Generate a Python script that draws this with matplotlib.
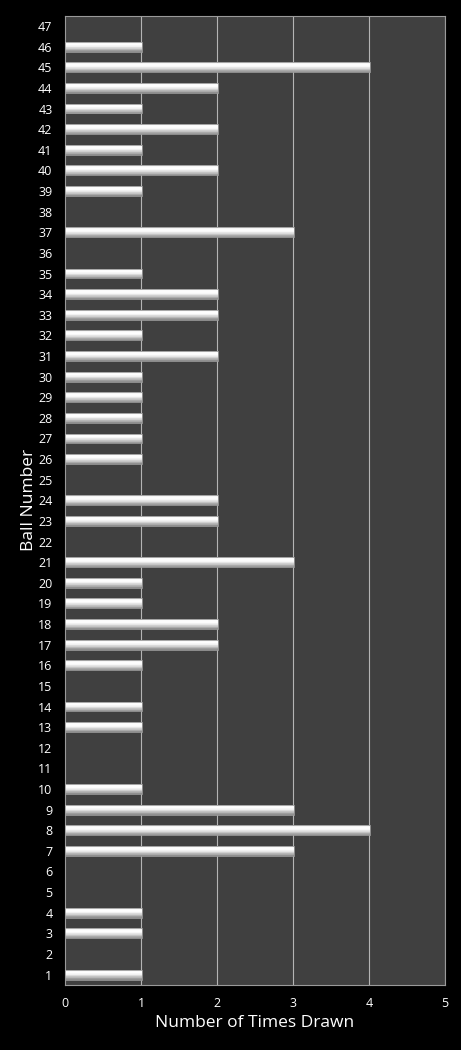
import numpy as np
import matplotlib
matplotlib.use("Agg")
import matplotlib.pyplot as plt
from matplotlib.colors import LinearSegmentedColormap

balls = list(range(1, 48))
counts = [1, 0, 1, 1, 0, 0, 3, 4, 3, 1,
          0, 0, 1, 1, 0, 1, 2, 2, 1, 1,
          3, 0, 2, 2, 0, 1, 1, 1, 1, 1,
          2, 1, 2, 2, 1, 0, 3, 0, 1, 2,
          1, 2, 1, 2, 4, 1, 0]
xticks = [0, 1, 2, 3, 4, 5]

plt.rcParams['font.family'] = ['Open Sans', 'DejaVu Sans']

fig = plt.figure(figsize=(4.61, 10.5), dpi=100, facecolor='black')
ax = fig.add_axes([0.141, 0.062, 0.824, 0.923])
ax.set_facecolor('#404040')

for x in xticks[1:]:
    ax.axvline(x, color='#b4b4b4', lw=0.8, zorder=1)

# bar shading: bottom (t=0) -> top (t=1)
cmap = LinearSegmentedColormap.from_list('bar', [
    (0.0, '#8a8a8a'), (0.3, '#c8c8c8'), (0.55, '#f4f4f4'),
    (0.7, '#ffffff'), (0.9, '#fafafa'), (1.0, '#d0d0d0')])
h = 0.48
n = 16
vals = np.array(balls, dtype=float)
cnts = np.array(counts, dtype=float)
widths = np.where(cnts > 0, cnts + 0.02, 0)
for i in range(n):
    t = (i + 0.5) / n
    off = -h / 2 + (i + 0.5) * h / n
    ax.barh(vals + off, widths, height=h / n * 1.05, left=0,
            color=cmap(t), linewidth=0, zorder=3)
ax.barh(vals[cnts > 0], widths[cnts > 0], height=h, left=0,
        fill=False, edgecolor='#9a9a9a', linewidth=0.6, zorder=4)

ax.set_xlim(0, 5)
ax.set_ylim(0.5, 47.5)
ax.set_yticks(balls)
ax.set_yticklabels([str(b) for b in balls])
ax.set_xticks(xticks)
ax.tick_params(axis='both', colors='white', labelsize=9, length=0)
ax.tick_params(axis='y', pad=9)
ax.tick_params(axis='x', pad=9)
for s in ax.spines.values():
    s.set_color('#9a9a9a')
    s.set_linewidth(0.8)

ax.set_xlabel('Number of Times Drawn', color='white', fontsize=12.5, labelpad=3)
ax.set_ylabel('Ball Number', color='white', fontsize=12.5, labelpad=1)

fig.savefig('out.png', dpi=100, facecolor='black')
